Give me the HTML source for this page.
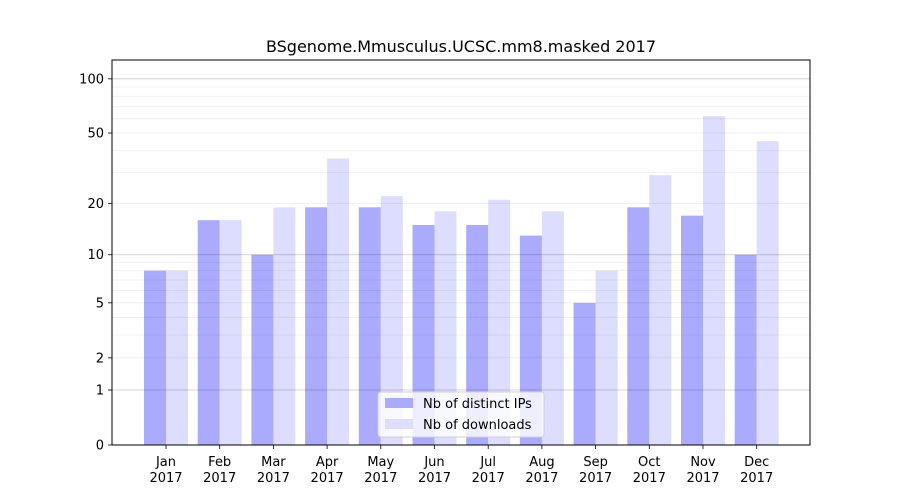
<!DOCTYPE html>
<html><head><meta charset="utf-8"><style>
body{margin:0;background:#fff}
svg{display:block;font-family:"DejaVu Sans","Liberation Sans",sans-serif}
</style></head><body>
<svg id="s" width="900" height="500" xmlns="http://www.w3.org/2000/svg"></svg>
<script>
var s=document.getElementById('s');var h='';
function Y(v){return 445-182.7*Math.log10(1+v);}
h+='<rect x="0" y="0" width="900" height="500" fill="#fff"/>';
var ips=[8,16,10,19,19,15,15,13,5,19,17,10];
var dl=[8,16,19,36,22,18,21,18,8,29,62,45];
var m=['Jan','Feb','Mar','Apr','May','Jun','Jul','Aug','Sep','Oct','Nov','Dec'];
for(var i=0;i<12;i++){
 var c=166+i*53.7;
 h+='<rect x="'+(c-22)+'" y="'+Y(ips[i])+'" width="22" height="'+(445-Y(ips[i]))+'" fill="#aaaaff"/>';
 h+='<rect x="'+c+'" y="'+Y(dl[i])+'" width="22" height="'+(445-Y(dl[i]))+'" fill="#ddddff"/>';
 h+='<line x1="'+c+'" x2="'+c+'" y1="445" y2="449" stroke="#000" stroke-width="0.8"/>';
 h+='<text x="'+c+'" y="466" font-size="13" text-anchor="middle">'+m[i]+'</text>';
 h+='<text x="'+c+'" y="482" font-size="13" text-anchor="middle">2017</text>';
}
var minors=[];for(var d of [1,10]){for(var k=2;k<=9;k++)minors.push(k*d);}
for(var v of minors){h+='<line x1="112" x2="810" y1="'+Y(v)+'" y2="'+Y(v)+'" stroke="#000" stroke-opacity="0.07" stroke-width="0.8"/>';}
for(var v of [1,10,100]){h+='<line x1="112" x2="810" y1="'+Y(v)+'" y2="'+Y(v)+'" stroke="#000" stroke-opacity="0.22" stroke-width="0.8"/>';}
h+='<rect x="112" y="60" width="698" height="385" fill="none" stroke="#000" stroke-width="1"/>';
for(var v of [0,1,2,5,10,20,50,100]){var y=Y(v);
 h+='<line x1="108" x2="112" y1="'+y+'" y2="'+y+'" stroke="#000" stroke-width="0.8"/>';
 h+='<text x="104" y="'+(y+4.5)+'" font-size="13" text-anchor="end">'+v+'</text>';}
h+='<text x="461" y="52" font-size="16" text-anchor="middle">BSgenome.Mmusculus.UCSC.mm8.masked 2017</text>';
h+='<rect x="378" y="392" width="166" height="45" rx="3" fill="#fff" fill-opacity="0.8" stroke="#d0d0d0"/>';
h+='<rect x="385" y="398" width="28" height="10" fill="#aaaaff"/>';
h+='<text x="423" y="408" font-size="13">Nb of distinct IPs</text>';
h+='<rect x="385" y="419" width="28" height="10" fill="#ddddff"/>';
h+='<text x="423" y="429" font-size="13">Nb of downloads</text>';
s.innerHTML=h;
</script>
</body></html>
